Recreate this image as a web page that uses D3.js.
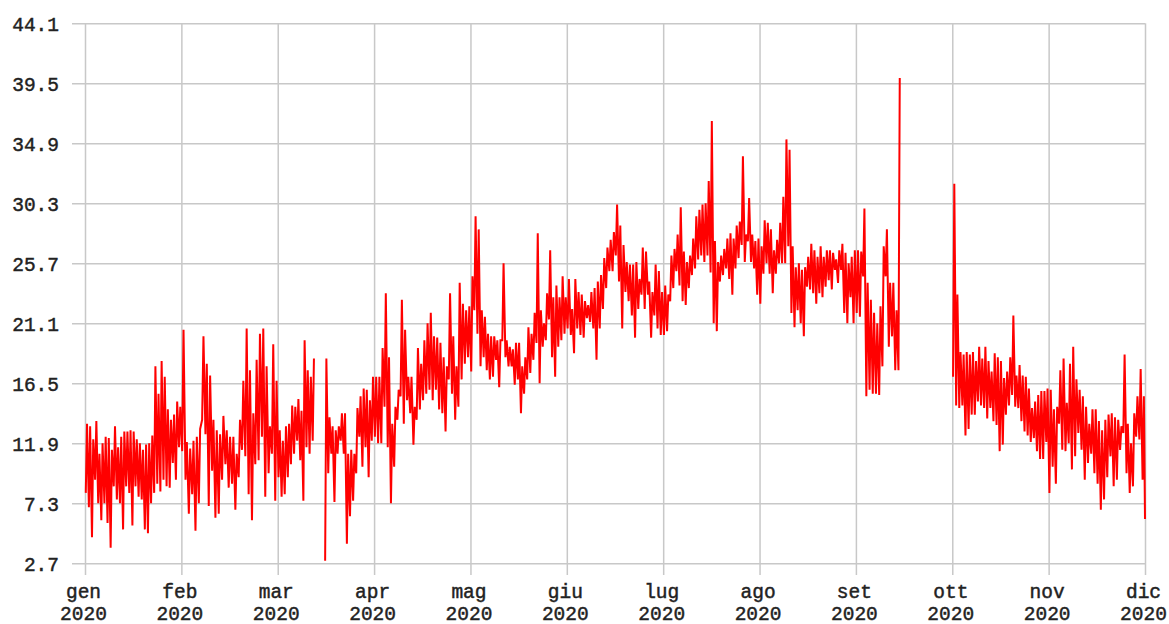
<!DOCTYPE html>
<html>
<head>
<meta charset="utf-8">
<script src="https://cdn.jsdelivr.net/npm/d3@7"></script>
<style>
  html, body { margin: 0; padding: 0; background: #fff; }
  svg { display: block; }
  text { font-family: "Liberation Mono", "DejaVu Sans Mono", monospace; font-size: 19.5px; fill: #222; }
</style>
</head>
<body>
<svg id="chart" width="1169" height="624"></svg>
<script>
// Month tick labels (Italian) and the year printed under each one
const monthLabels = ["gen", "feb", "mar", "apr", "mag", "giu", "lug", "ago", "set", "ott", "nov", "dic"];
const yearLabel = "2020";

// Y axis tick values (°C)
const yTicks = [2.7, 7.3, 11.9, 16.5, 21.1, 25.7, 30.3, 34.9, 39.5, 44.1];

// Daily maximum / minimum temperatures, one value per day of each month (null = no data)
const genMax = [13.4,13.2,12.2,13.6,11.1,11.9,12.4,12.3,11.4,13.2,11.6,12.4,12.8,12.8,12.9,12.8,12.2,11.9,11.4,11.8,11.9,12.5,17.8,15.7,18.2,17.0,14.5,13.7,14.1,15.1,14.7];
const genMin = [8.1,7.0,4.7,9.1,7.3,6.0,7.3,5.8,3.9,8.6,7.6,7.3,5.3,8.6,8.1,5.6,8.6,7.8,7.6,5.3,5.0,7.3,8.1,8.8,8.2,9.1,8.6,8.5,10.4,9.1,11.6];

const febMax = [20.6,12.0,11.5,12.1,12.4,13.0,20.1,18.0,17.1,13.7,12.9,12.6,14.0,12.9,12.4,12.4,11.1,13.7,16.7,20.7,17.5,14.2,18.3,20.3,20.7,17.8,13.2,19.5,16.7];
const febMin = [11.3,9.1,6.5,8.0,5.2,7.3,13.7,12.6,7.1,9.8,6.2,6.5,9.1,10.3,8.5,8.8,6.8,9.3,11.4,10.9,8.0,6.0,10.3,10.6,12.4,7.8,9.6,11.1,7.5];

const marMax = [12.9,12.1,13.2,13.4,14.8,14.7,15.3,14.4,19.8,17.5,17.0,18.4,null,null,null,18.4,13.9,13.2,12.9,13.2,14.2,14.2,11.1,11.4,11.1,14.6,15.5,16.1,16.0,15.2,17.0];
const marMin = [9.3,7.8,8.0,9.3,10.3,11.1,12.1,10.6,7.5,11.6,11.1,12.1,null,null,null,2.9,9.6,11.1,7.4,11.1,12.1,11.1,4.2,6.3,7.5,9.6,12.4,10.1,11.6,9.3,12.1];

const aprMax = [17.0,17.0,19.2,23.4,18.5,13.4,14.7,16.0,22.9,20.6,17.0,17.0,14.7,19.2,18.0,19.8,21.1,21.9,20.1,20.0,19.6,18.5,17.8,23.4,20.1,17.8,24.2,22.6,22.1,22.4];
const aprMin = [12.4,11.9,11.9,14.7,11.6,7.3,10.1,13.7,15.5,13.4,15.2,14.2,11.8,13.7,14.5,15.2,15.7,16.0,15.2,16.0,14.5,14.2,12.8,16.8,15.7,13.7,14.7,16.8,18.0,18.5];

const magMax = [24.7,29.3,28.3,22.1,21.6,20.3,20.1,20.1,19.8,19.8,25.7,19.8,19.3,19.1,19.6,19.6,17.8,18.5,20.8,20.3,21.9,28.0,22.1,21.1,23.4,26.7,23.1,24.0,23.1,24.7,23.1];
const magMin = [17.4,22.1,20.3,17.8,18.5,17.5,16.8,17.0,18.3,16.2,19.8,18.5,17.8,17.8,16.4,16.8,14.2,15.7,16.8,17.3,18.3,19.6,16.5,19.3,19.8,21.4,18.5,17.0,19.3,19.8,20.3];

const giuMax = [24.5,22.2,24.5,23.5,23.3,22.8,22.5,23.5,23.8,24.3,24.8,26.1,26.9,27.5,28.1,30.2,28.6,27.1,25.8,25.6,25.6,25.8,24.5,26.9,26.6,24.3,23.5,25.6,25.1,23.5];
const giuMin = [20.7,20.2,18.8,20.7,20.2,20.0,21.5,21.2,20.7,18.3,20.7,22.2,23.8,25.1,25.1,26.3,24.3,20.7,23.5,22.8,21.7,20.0,22.2,23.3,22.2,23.3,20.0,21.7,20.7,20.2];

const lugMax = [24.0,23.3,26.3,26.8,27.9,30.0,26.6,25.8,26.3,27.6,29.3,29.8,30.2,30.3,32.0,36.6,27.4,25.8,26.3,26.8,27.6,28.0,27.6,28.6,28.9,33.9,27.9,30.7,27.9,27.4,27.6];
const lugMin = [20.2,20.5,22.8,23.8,25.1,24.0,22.8,22.5,23.8,24.8,25.3,26.0,26.3,25.8,26.3,25.0,21.1,20.5,24.3,24.8,25.3,24.5,23.3,25.3,26.1,27.1,25.8,27.4,25.8,25.3,23.3];

const agoMax = [27.0,29.0,28.8,28.3,26.7,27.5,28.8,30.8,35.2,34.4,27.0,25.4,25.7,25.2,25.4,26.2,27.2,26.7,26.2,27.0,26.2,26.7,26.7,26.5,26.0,26.7,27.2,26.5,25.7,26.2,26.7];
const agoMin = [22.6,24.9,25.7,24.9,23.4,24.9,25.7,25.7,25.7,27.0,21.9,20.8,22.1,21.1,20.1,23.9,23.7,23.4,22.6,23.4,23.1,23.9,24.4,23.7,25.2,24.2,25.2,21.9,21.1,23.1,21.1];

const setMax = [26.7,26.6,29.9,24.2,22.9,21.9,21.1,22.4,27.0,28.3,24.2,24.2,22.1,39.9,null,null,null,null,null,null,null,null,null,null,null,null,null,null,null,null];
const setMin = [21.9,21.6,24.7,15.5,16.0,15.7,15.7,15.6,17.8,24.7,19.3,20.1,17.5,17.5,null,null,null,null,null,null,null,null,null,null,null,null,null,null,null,null];

const ottMax = [31.8,23.3,18.9,18.7,18.9,18.7,18.9,18.2,19.3,18.4,19.3,18.2,17.4,18.8,18.5,18.2,16.9,17.4,18.5,21.7,17.1,17.9,17.1,17.0,16.1,14.6,15.1,15.6,15.9,15.9,16.1];
const ottMin = [17.0,14.8,14.6,14.8,12.5,13.0,14.1,14.1,15.1,14.8,14.6,13.8,14.6,13.6,13.3,11.3,11.8,14.1,14.8,15.6,14.7,14.6,13.6,12.8,12.5,12.0,12.3,11.3,10.7,10.7,12.0];

const novMax = [16.0,14.5,14.7,17.5,18.4,15.0,18.0,19.3,16.8,16.0,15.5,14.7,13.4,14.5,14.5,13.6,12.9,13.7,14.1,14.2,13.9,13.7,13.2,18.7,13.4,11.9,14.2,15.5,17.6,15.5];
const novMin = [8.1,10.1,8.8,13.4,11.4,11.3,11.9,9.9,10.9,12.7,11.4,9.1,10.4,11.1,9.6,8.8,6.8,7.6,9.3,10.9,8.6,9.1,11.4,12.7,9.6,8.1,8.6,12.4,12.2,9.1];

// Last reading, at the start of December
const dicStart = [6.1];

const monthly = [
  [genMax, genMin], [febMax, febMin], [marMax, marMin], [aprMax, aprMin],
  [magMax, magMin], [giuMax, giuMin], [lugMax, lugMin], [agoMax, agoMin],
  [setMax, setMin], [ottMax, ottMin], [novMax, novMin]
];

// Flatten into a time-ordered series: night minimum, then afternoon maximum, per day.
// Time is measured in months (0 = start of January), each month split evenly by its days.
const series = [];
monthly.forEach(([mx, mn], m) => {
  const n = mx.length;
  for (let d = 0; d < n; d++) {
    series.push({ t: m + (d + 0.25) / n, v: mn[d] });
    series.push({ t: m + (d + 0.65) / n, v: mx[d] });
  }
});
dicStart.forEach(v => series.push({ t: 11, v }));

// Layout
const plotLeft = 85, plotRight = 1145, plotTop = 23.3, plotBottom = 563.3;
const gridLeft = 72, gridBottom = 575;

const svg = d3.select("#chart");

const x = d3.scaleLinear().domain([0, 11]).range([plotLeft, plotRight]);
const y = d3.scaleLinear().domain([2.7, 44.1]).range([plotBottom, plotTop]);

// Horizontal grid + y labels
const yAxis = d3.axisLeft(y)
  .tickValues(yTicks)
  .tickFormat(d3.format(".1f"))
  .tickSizeInner(-(plotRight - gridLeft))
  .tickSizeOuter(0)
  .tickPadding(13);

const gy = svg.append("g")
  .attr("transform", `translate(${gridLeft},0)`)
  .call(yAxis);
gy.select(".domain").remove();
gy.selectAll(".tick line").attr("stroke", "#c8c8c8").attr("stroke-width", 1.5);
gy.selectAll(".tick text")
  .attr("fill", "#222")
  .attr("stroke", "#222")
  .attr("stroke-width", 0.45)
  .attr("dy", "0.36em")
  .style("font-size", "19.5px");

// Vertical grid + two-line month labels
const xAxis = d3.axisBottom(x)
  .tickValues(d3.range(0, 12))
  .tickFormat(i => monthLabels[i])
  .tickSizeInner(-(gridBottom - plotTop))
  .tickSizeOuter(0);

const gx = svg.append("g")
  .attr("transform", `translate(0,${gridBottom})`)
  .call(xAxis);
gx.select(".domain").remove();
gx.selectAll(".tick line").attr("stroke", "#c8c8c8").attr("stroke-width", 1.5);
gx.selectAll(".tick text").each(function (i) {
  const t = d3.select(this);
  t.text(null).attr("y", 0).attr("dy", null).attr("x", -2)
    .attr("fill", "#222").attr("stroke", "#222").attr("stroke-width", 0.45)
    .style("font-size", "19.5px");
  t.append("tspan").attr("x", -2).attr("y", 22.5).text(monthLabels[i]);
  t.append("tspan").attr("x", -2).attr("y", 44.5).text(yearLabel);
});

// Temperature trace
const line = d3.line()
  .defined(d => d.v != null)
  .x(d => x(d.t))
  .y(d => y(d.v));

svg.append("path")
  .datum(series)
  .attr("fill", "none")
  .attr("stroke", "#ff0000")
  .attr("stroke-width", 2)
  .attr("stroke-linejoin", "miter")
  .attr("d", line);
</script>
</body>
</html>
